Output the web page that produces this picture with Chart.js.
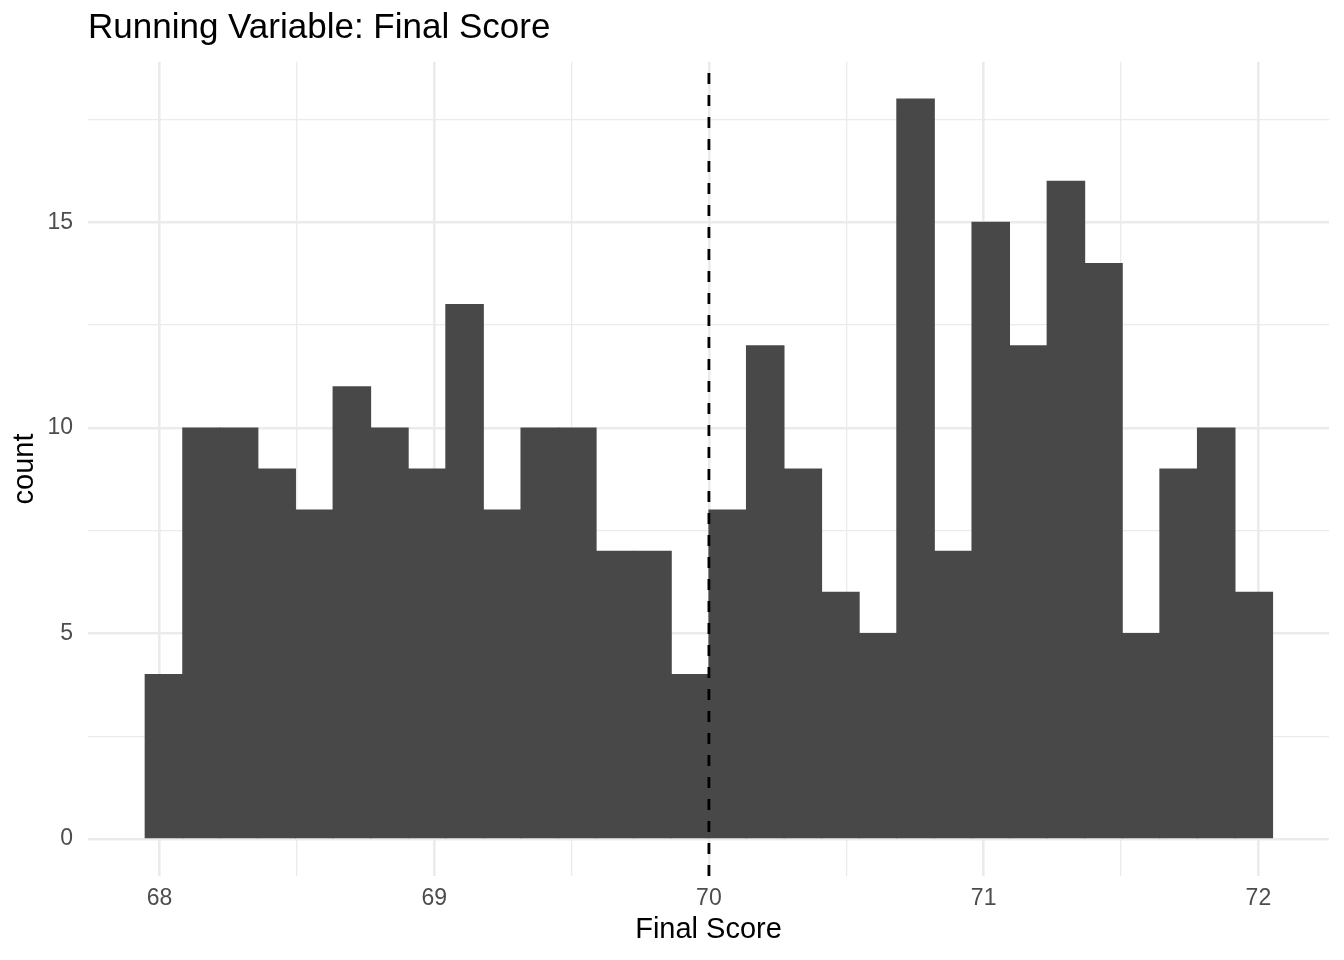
<!DOCTYPE html>
<html lang="en">
<head>
    <title>Running Variable: Final Score</title>
    <script src="https://cdn.jsdelivr.net/npm/chart.js"></script>
    <style>
        body {
            margin: 0;
            background: #ffffff;
        }
        canvas {
            display: block;
        }
    </style>
</head>
<body>
    <canvas id="histogram" width="1344" height="960"></canvas>

    <script>
        // histogram bins (centres) and counts
        const binCenters = [68.0164, 68.1532, 68.2900, 68.4268, 68.5636, 68.7004, 68.8371, 68.9739, 69.1107, 69.2475,
                            69.3843, 69.5211, 69.6579, 69.7947, 69.9315, 70.0683, 70.2050, 70.3418, 70.4786, 70.6154,
                            70.7522, 70.8890, 71.0258, 71.1626, 71.2994, 71.4362, 71.5729, 71.7097, 71.8465, 71.9833];
        const counts = [4, 10, 10, 9, 8, 11, 10, 9, 13, 8,
                        10, 10, 7, 7, 4, 8, 12, 9, 6, 5,
                        18, 7, 15, 12, 16, 14, 5, 9, 10, 6];

        // axis ticks (majors get labels, the rest are minor grid lines)
        const xTicks = [68, 68.5, 69, 69.5, 70, 70.5, 71, 71.5, 72];
        const yTicks = [0, 2.5, 5, 7.5, 10, 12.5, 15, 17.5];
        const cutoff = 70;

        const font = "'Liberation Sans', Arial, Helvetica, sans-serif";
        const gridColor = '#ebebeb';

        function isMajorX(v) { return Math.abs(v - Math.round(v)) < 1e-9; }
        function isMajorY(v) { return Math.abs(v / 5 - Math.round(v / 5)) < 1e-9; }

        // dashed cutoff line drawn on top of the bars
        const cutoffLine = {
            id: 'cutoffLine',
            afterDatasetsDraw(chart) {
                const ctx = chart.ctx;
                const area = chart.chartArea;
                const x = chart.scales.x.getPixelForValue(cutoff);
                ctx.save();
                ctx.strokeStyle = '#000000';
                ctx.lineWidth = 2.8;
                ctx.setLineDash([11, 11]);
                ctx.beginPath();
                ctx.moveTo(x, area.bottom);
                ctx.lineTo(x, area.top);
                ctx.stroke();
                ctx.restore();
            }
        };

        const ctx = document.getElementById('histogram').getContext('2d');
        new Chart(ctx, {
            type: 'bar',
            data: {
                datasets: [{
                    label: 'count',
                    data: binCenters.map((c, i) => ({ x: c, y: counts[i] })),
                    backgroundColor: '#484848',
                    borderWidth: 0,
                    inflateAmount: 0.5,
                    barPercentage: 1,
                    categoryPercentage: 1
                }]
            },
            options: {
                responsive: false,
                animation: false,
                devicePixelRatio: 1,
                layout: {
                    padding: { left: 0, right: 15, top: 0, bottom: 0 }
                },
                plugins: {
                    legend: { display: false },
                    tooltip: { enabled: false },
                    title: {
                        display: true,
                        text: 'Running Variable: Final Score',
                        align: 'start',
                        fullSize: false,
                        color: '#000000',
                        font: { family: font, size: 35, weight: 'normal', lineHeight: 1 },
                        padding: { top: 11, bottom: 16 }
                    }
                },
                scales: {
                    x: {
                        type: 'linear',
                        min: 67.74,
                        max: 72.257,
                        offset: false,
                        afterBuildTicks(scale) {
                            scale.ticks = xTicks.map(v => ({ value: v }));
                        },
                        afterFit(scale) {
                            scale.height = 84;
                        },
                        ticks: {
                            autoSkip: false,
                            maxRotation: 0,
                            padding: 9,
                            color: '#4d4d4d',
                            font: { family: font, size: 23 },
                            callback: v => isMajorX(v) ? String(v) : ''
                        },
                        grid: {
                            offset: false,
                            drawTicks: false,
                            color: gridColor,
                            lineWidth: c => isMajorX(c.tick.value) ? 2.6 : 1.3
                        },
                        border: { display: false },
                        title: {
                            display: true,
                            text: 'Final Score',
                            color: '#000000',
                            font: { family: font, size: 29, lineHeight: 1 },
                            padding: { top: 0, bottom: 15.5 }
                        }
                    },
                    y: {
                        min: -0.9,
                        max: 18.9,
                        afterBuildTicks(scale) {
                            scale.ticks = yTicks.map(v => ({ value: v }));
                        },
                        afterFit(scale) {
                            scale.width = 88;
                        },
                        ticks: {
                            padding: 15,
                            color: '#4d4d4d',
                            font: { family: font, size: 23 },
                            callback: v => isMajorY(v) ? String(v) : ''
                        },
                        grid: {
                            drawTicks: false,
                            color: gridColor,
                            lineWidth: c => isMajorY(c.tick.value) ? 2.6 : 1.3
                        },
                        border: { display: false },
                        title: {
                            display: true,
                            text: 'count',
                            color: '#000000',
                            font: { family: font, size: 29, lineHeight: 1 },
                            padding: { top: 10.5, bottom: 0 }
                        }
                    }
                }
            },
            plugins: [cutoffLine]
        });
    </script>
</body>
</html>
